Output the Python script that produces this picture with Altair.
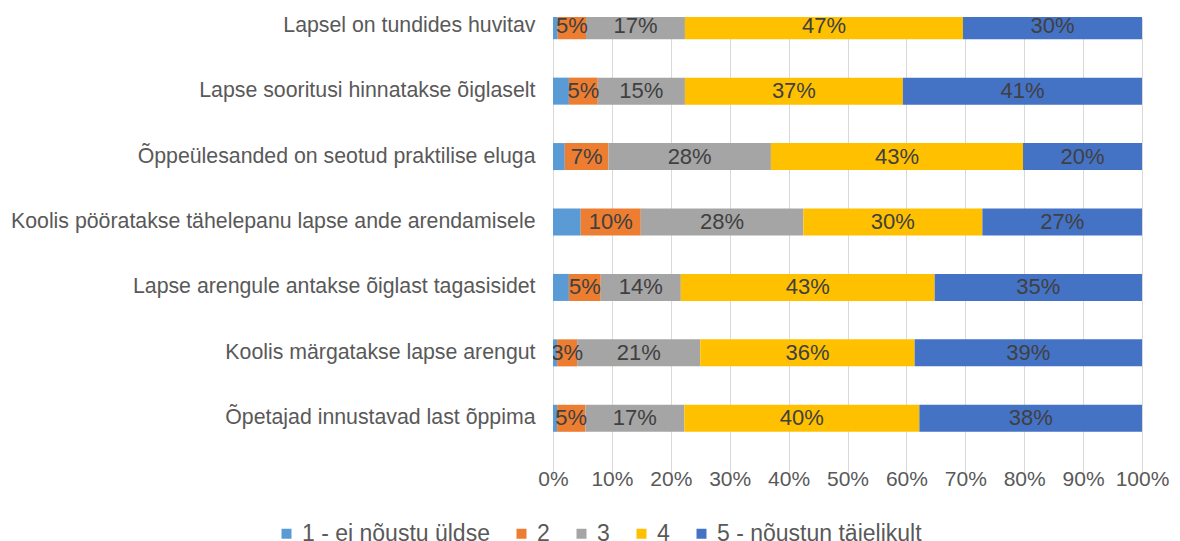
import altair as alt
import pandas as pd

categories = [
    "Lapsel on tundides huvitav",
    "Lapse sooritusi hinnatakse õiglaselt",
    "Õppeülesanded on seotud praktilise eluga",
    "Koolis pööratakse tähelepanu lapse ande arendamisele",
    "Lapse arengule antakse õiglast tagasisidet",
    "Koolis märgatakse lapse arengut",
    "Õpetajad innustavad last õppima",
]
series = ["1 - ei nõustu üldse", "2", "3", "4", "5 - nõustun täielikult"]
colors = ["#5B9BD5", "#ED7D31", "#A5A5A5", "#FFC000", "#4472C4"]

s1 = [0.8, 2.7, 2.0, 4.7, 2.7, 0.7, 0.7]
s2 = [4.8, 4.9, 7.4, 10.2, 5.4, 3.4, 4.8]
s3 = [16.8, 14.8, 27.6, 27.6, 13.6, 20.9, 16.8]
s4 = [47.2, 37.0, 42.8, 30.4, 43.1, 36.4, 39.9]
s5 = [30.4, 40.6, 20.2, 27.1, 35.2, 38.6, 37.8]
x_ticks = [0, 10, 20, 30, 40, 50, 60, 70, 80, 90, 100]

rows = []
for si, (name, vals) in enumerate(zip(series, [s1, s2, s3, s4, s5])):
    for cat, v in zip(categories, vals):
        rows.append({"cat": cat, "series": name, "idx": si, "value": v})
df = pd.DataFrame(rows)

FONT = "Liberation Sans"

base = alt.Chart(df).transform_stack(
    stack="value", groupby=["cat"], as_=["start", "end"],
    sort=[alt.SortField("idx", order="ascending")]
).transform_calculate(
    mid="(datum.start + datum.end) / 2",
    label="format(datum.value, '.0f') + '%'"
)

yenc = alt.Y(
    "cat:N", sort=categories,
    scale=alt.Scale(range=[-24, 434], paddingInner=0.587, paddingOuter=0.2935),
    axis=alt.Axis(title=None, ticks=False, domain=False, grid=False,
                  labelFont=FONT, labelFontSize=21.3, labelColor="#595959",
                  labelPadding=18, labelLimit=700),
)

bars = base.mark_bar(clip=True).encode(
    y=yenc,
    x=alt.X("start:Q", scale=alt.Scale(domain=[0, 100], nice=False),
            axis=alt.Axis(title=None, values=x_ticks, labelExpr="datum.value + '%'",
                          ticks=False, domain=False, grid=True, gridColor="#d9d9d9",
                          gridWidth=1, labelFont=FONT, labelFontSize=21,
                          labelColor="#595959", labelPadding=16,
                          labelOverlap=False, labelFlush=False)),
    x2="end:Q",
    color=alt.Color("series:N", scale=alt.Scale(domain=series, range=colors),
                    legend=alt.Legend(title=None, orient="none", direction="horizontal",
                                      legendX=-278, legendY=505, symbolType="square",
                                      symbolSize=100, symbolStrokeWidth=0,
                                      labelFont=FONT, labelFontSize=23,
                                      labelColor="#595959", columnPadding=20,
                                      labelOffset=4, padding=0, labelLimit=400)),
    order=alt.Order("idx:Q"),
)

texts = base.transform_filter("datum.idx > 0").mark_text(
    clip=True, font=FONT, fontSize=22, color="#404040", baseline="middle", align="center"
).encode(
    y=alt.Y("cat:N", sort=categories),
    x=alt.X("mid:Q"),
    text="label:N",
)

chart = alt.layer(bars, texts).properties(
    width=589, height=435,
    padding={"left": 545, "top": 9, "right": 30, "bottom": 89},
    autosize=alt.AutoSizeParams(type="none"),
).configure_view(stroke=None)

chart.save("out.html", embed_options={"renderer": "svg", "actions": False})
